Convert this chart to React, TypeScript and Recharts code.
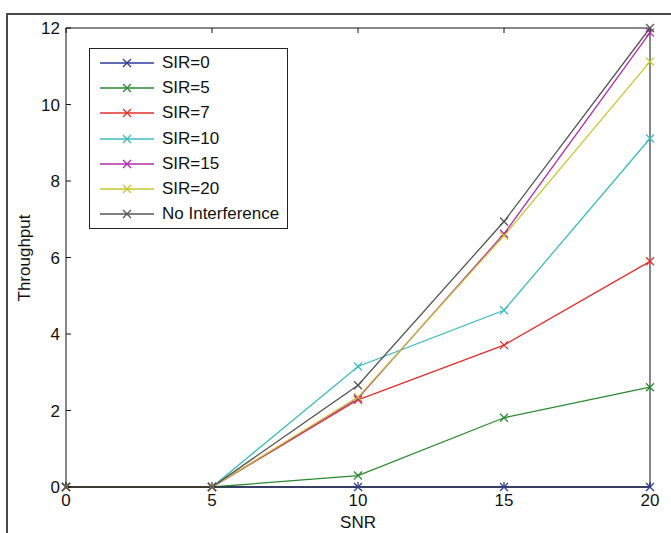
import React from 'react';
import { LineChart, Line, XAxis, YAxis, Label } from 'recharts';

const snr = [0, 5, 10, 15, 20];
const sir0 = [0, 0, 0, 0, 0];
const sir5 = [0, 0, 0.3, 1.81, 2.61];
const sir7 = [0, 0, 2.28, 3.71, 5.9];
const sir10 = [0, 0, 3.15, 4.62, 9.11];
const sir15 = [0, 0, 2.32, 6.62, 11.88];
const sir20 = [0, 0, 2.35, 6.57, 11.12];
const noInterference = [0, 0, 2.66, 6.94, 12.0];

const xTicks = [0, 5, 10, 15, 20];
const yTicks = [0, 2, 4, 6, 8, 10, 12];

const series = [
  { key: 'sir0', name: 'SIR=0', values: sir0, color: '#2b3c9e' },
  { key: 'sir5', name: 'SIR=5', values: sir5, color: '#2a8a30' },
  { key: 'sir7', name: 'SIR=7', values: sir7, color: '#e0302c' },
  { key: 'sir10', name: 'SIR=10', values: sir10, color: '#3cbcbc' },
  { key: 'sir15', name: 'SIR=15', values: sir15, color: '#b02cae' },
  { key: 'sir20', name: 'SIR=20', values: sir20, color: '#c9c630' },
  { key: 'noInt', name: 'No Interference', values: noInterference, color: '#555555' },
];

const data = snr.map((x, i) => {
  const row: Record<string, number> = { snr: x };
  series.forEach((s) => {
    row[s.key] = s.values[i];
  });
  return row;
});

const FONT = '"Liberation Sans", Arial, sans-serif';
const FS = 17;

function Cross(props: any) {
  const { cx, cy, stroke } = props;
  if (cx == null || cy == null) return null;
  const r = 4;
  return (
    <g>
      <line x1={cx - r} y1={cy - r} x2={cx + r} y2={cy + r} stroke={stroke} strokeWidth={1.3} />
      <line x1={cx - r} y1={cy + r} x2={cx + r} y2={cy - r} stroke={stroke} strokeWidth={1.3} />
    </g>
  );
}

// legend drawn as an overlay so it doesn't eat plot space
function LegendBox() {
  return (
    <div
      style={{
        position: 'absolute',
        left: 89,
        top: 48,
        border: '1px solid #222',
        background: '#fff',
        width: 199,
        height: 181,
        boxSizing: 'border-box',
        paddingTop: 1,
        fontFamily: FONT,
        fontSize: FS,
        color: '#111',
      }}
    >
      {series.map((s) => (
        <div key={s.key} style={{ display: 'flex', alignItems: 'center', height: 25.3 }}>
          <svg width={72} height={14} style={{ flex: 'none' }}>
            <line x1={10} y1={7} x2={64} y2={7} stroke={s.color} strokeWidth={1.3} />
            <line x1={33} y1={3} x2={41} y2={11} stroke={s.color} strokeWidth={1.3} />
            <line x1={33} y1={11} x2={41} y2={3} stroke={s.color} strokeWidth={1.3} />
          </svg>
          <span style={{ whiteSpace: 'nowrap' }}>{s.name}</span>
        </div>
      ))}
    </div>
  );
}

export default function App() {
  const tickStyle = { fontSize: FS, fill: '#111', fontFamily: FONT };
  return (
    <div style={{ position: 'absolute', left: 0, top: 0, width: 671, height: 533, background: '#fff', overflow: 'hidden' }}>
      <div
        style={{
          position: 'absolute',
          left: 6,
          top: 13,
          width: 700,
          height: 560,
          borderTop: '2px solid #4a4a4a',
          borderLeft: '2px solid #4a4a4a',
        }}
      />
      <LineChart
        width={671}
        height={533}
        data={data}
        margin={{ top: 27, right: 20, bottom: 0, left: 0 }}
        style={{ position: 'absolute', left: 0, top: 0 }}
      >
        <XAxis
          xAxisId="bottom"
          dataKey="snr"
          type="number"
          domain={[0, 20]}
          ticks={xTicks}
          height={46}
          stroke="#111"
          tickSize={-5}
          tickMargin={12}
          tick={tickStyle}
          interval={0}
        >
          <Label
            content={() => (
              <text x={358} y={528} textAnchor="middle" fontSize={FS} fill="#111" fontFamily={FONT}>
                SNR
              </text>
            )}
          />
        </XAxis>
        <XAxis
          xAxisId="top"
          orientation="top"
          dataKey="snr"
          type="number"
          domain={[0, 20]}
          ticks={xTicks}
          height={1}
          stroke="#111"
          tickSize={-5}
          tickFormatter={() => ''}
          interval={0}
        />
        <YAxis
          yAxisId="left"
          type="number"
          domain={[0, 12]}
          ticks={yTicks}
          width={66}
          stroke="#111"
          tickSize={-5}
          tickMargin={11}
          tick={tickStyle}
          interval={0}
        >
          <Label
            content={() => (
              <text
                x={30}
                y={258}
                transform="rotate(-90 30 258)"
                textAnchor="middle"
                fontSize={FS}
                fill="#111"
                fontFamily={FONT}
              >
                Throughput
              </text>
            )}
          />
        </YAxis>
        <YAxis
          yAxisId="right"
          orientation="right"
          type="number"
          domain={[0, 12]}
          ticks={yTicks}
          width={1}
          stroke="#111"
          tickSize={-5}
          tickFormatter={() => ''}
          interval={0}
        />
        {series.map((s) => (
          <Line
            key={s.key}
            xAxisId="bottom"
            yAxisId="left"
            type="linear"
            dataKey={s.key}
            name={s.name}
            stroke={s.color}
            strokeWidth={1.3}
            dot={<Cross />}
            activeDot={false}
            isAnimationActive={false}
          />
        ))}
      </LineChart>
      <LegendBox />
    </div>
  );
}
